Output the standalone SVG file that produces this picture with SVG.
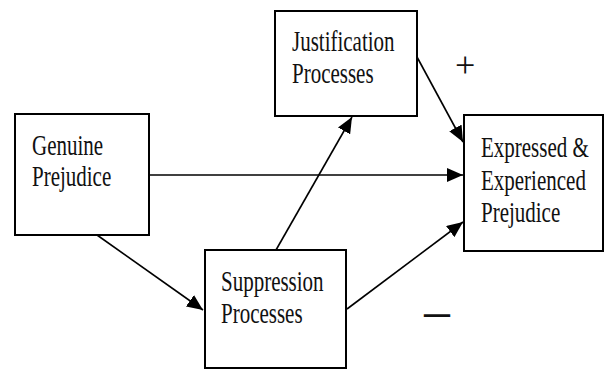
<svg xmlns="http://www.w3.org/2000/svg" width="606" height="369" viewBox="0 0 606 369">
<style>
.box{fill:#fff;stroke:#000;stroke-width:2}
.lbl{font-family:"Liberation Serif","Times New Roman",serif;font-size:21px;fill:#111}
.sign{font-family:"Liberation Serif","Times New Roman",serif;fill:#111}
.edge{stroke:#000;stroke-width:1.6;fill:none;marker-end:url(#ah)}
</style>
<defs>
<marker id="ah" markerUnits="userSpaceOnUse" markerWidth="17" markerHeight="14" refX="16" refY="7" orient="auto">
<path d="M0,0 L16,7 L0,14 z" fill="#000"/>
</marker>
</defs>
<rect width="606" height="369" fill="#fff"/>
<g id="connectors">
<line class="edge" x1="149" y1="175" x2="463" y2="175"/>
<line class="edge" x1="97" y1="235" x2="203" y2="310"/>
<line class="edge" x1="276" y1="250" x2="352" y2="117"/>
<line class="edge" x1="417" y1="57" x2="463" y2="142"/>
<line class="edge" x1="347" y1="309" x2="463" y2="222"/>
</g>
<g id="genuine">
<rect class="box" x="15" y="114" width="134" height="121"/>
<text class="lbl" transform="translate(32,155) scale(1,1.4)">Genuine</text>
<text class="lbl" transform="translate(32,186) scale(1,1.4)">Prejudice</text>
</g>
<g id="justification">
<rect class="box" x="275" y="11" width="142" height="105"/>
<text class="lbl" transform="translate(292,51) scale(1,1.4)">Justification</text>
<text class="lbl" transform="translate(292,83) scale(1,1.4)">Processes</text>
</g>
<g id="suppression">
<rect class="box" x="205" y="250" width="141" height="118"/>
<text class="lbl" transform="translate(221,291) scale(1,1.4)">Suppression</text>
<text class="lbl" transform="translate(221,323) scale(1,1.4)">Processes</text>
</g>
<g id="expressed">
<rect class="box" x="464" y="115" width="139" height="136"/>
<text class="lbl" transform="translate(481,157) scale(1,1.4)">Expressed &amp;</text>
<text class="lbl" transform="translate(481,190) scale(1,1.4)">Experienced</text>
<text class="lbl" transform="translate(481,222) scale(1,1.4)">Prejudice</text>
</g>
<g id="signs">
<text class="sign" font-size="36" x="455" y="77">+</text>
<text class="sign" font-size="26" transform="translate(424,329) scale(1,2.2)">—</text>
</g>
</svg>
